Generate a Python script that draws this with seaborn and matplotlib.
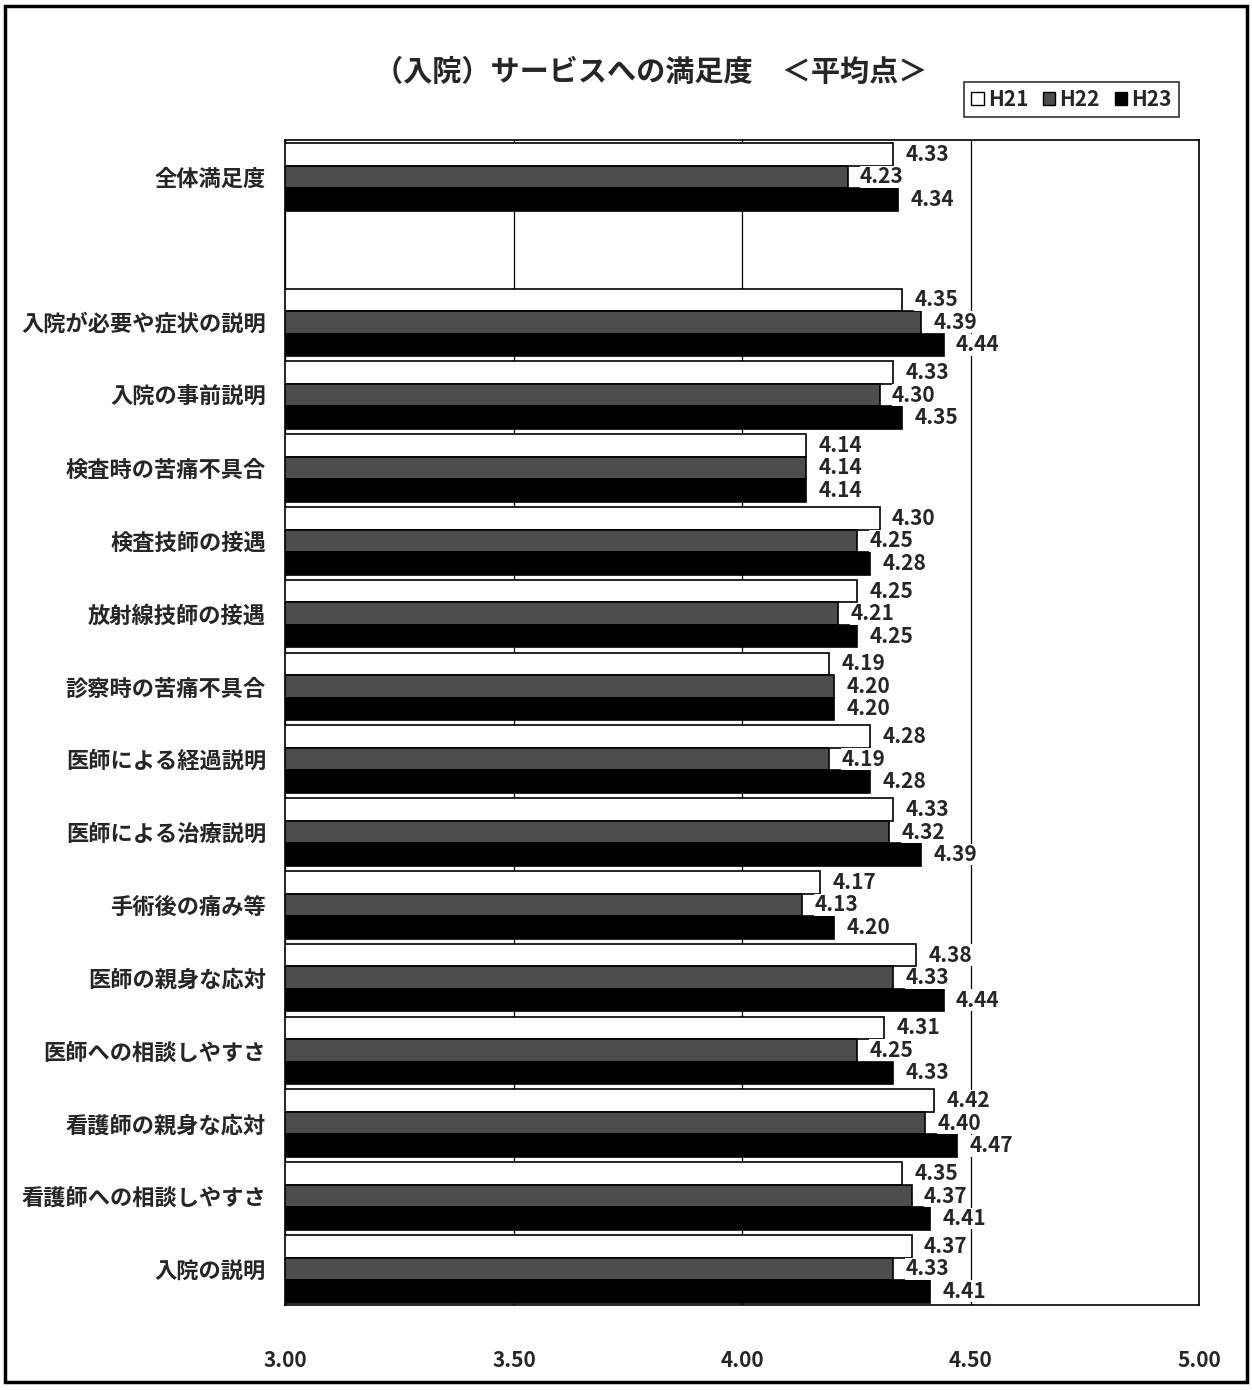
import pandas as pd
import matplotlib.pyplot as plt
import matplotlib.patches as mpatches
import seaborn as sns

CATEGORIES = ['全体満足度', ' ', '入院が必要や症状の説明', '入院の事前説明', '検査時の苦痛不具合',
              '検査技師の接遇', '放射線技師の接遇', '診察時の苦痛不具合', '医師による経過説明',
              '医師による治療説明', '手術後の痛み等', '医師の親身な応対', '医師への相談しやすさ',
              '看護師の親身な応対', '看護師への相談しやすさ', '入院の説明']
YEARS = ['H21', 'H22', 'H23']
H21 = [4.33, None, 4.35, 4.33, 4.14, 4.30, 4.25, 4.19, 4.28, 4.33, 4.17, 4.38, 4.31, 4.42, 4.35, 4.37]
H22 = [4.23, None, 4.39, 4.30, 4.14, 4.25, 4.21, 4.20, 4.19, 4.32, 4.13, 4.33, 4.25, 4.40, 4.37, 4.33]
H23 = [4.34, None, 4.44, 4.35, 4.14, 4.28, 4.25, 4.20, 4.28, 4.39, 4.20, 4.44, 4.33, 4.47, 4.41, 4.41]
X_TICKS = [3.0, 3.5, 4.0, 4.5, 5.0]


def get_figure_data():
    rows = []
    for year, vals in zip(YEARS, [H21, H22, H23]):
        for cat, v in zip(CATEGORIES, vals):
            if v is not None:
                rows.append({'項目': cat, '平均点': v, '年度': year})
    return pd.DataFrame(rows)


def draw_figure(df):
    sns.set_style('white')
    plt.rcParams['font.family'] = ['Noto Sans CJK JP', 'DejaVu Sans']
    fig = plt.figure(figsize=(12.52, 13.9), dpi=100)
    ax = fig.add_axes([0.228, 0.061, 0.730, 0.838])

    colors = ['white', '#4d4d4d', 'black']
    sns.barplot(data=df, y='項目', x='平均点', hue='年度', order=CATEGORIES, hue_order=YEARS,
                palette=colors, edgecolor='black', linewidth=1.2,
                width=0.93, orient='h', ax=ax, legend=False)

    ax.set_xlim(3.0, 5.0)
    ax.set_xticks(X_TICKS)
    ax.set_xticklabels([f'{t:.2f}' for t in X_TICKS], fontsize=15, fontweight='bold')
    ax.tick_params(axis='x', length=0, pad=32)
    ax.tick_params(axis='y', length=0, pad=14)
    ax.set_yticks(range(len(CATEGORIES)))
    ax.set_yticklabels(CATEGORIES, fontsize=16, fontweight='bold')
    ax.set_xlabel('')
    ax.set_ylabel('')
    ax.xaxis.grid(True, color='black', linewidth=0.9)
    ax.set_axisbelow(True)
    for s in ax.spines.values():
        s.set_color('black')
        s.set_linewidth(1.2)

    for cont in ax.containers:
        ax.bar_label(cont, fmt='%.2f', padding=9, fontsize=15, fontweight='bold',
                     bbox=dict(facecolor='white', edgecolor='none', pad=0.3))

    handles = [mpatches.Patch(facecolor=c, edgecolor='black', label=y)
               for c, y in zip(colors, YEARS)]
    ax.legend(handles=handles, ncol=3, loc='lower right', bbox_to_anchor=(0.989, 1.011),
              prop={'weight': 'bold', 'size': 15}, frameon=True, fancybox=False,
              edgecolor='black', handlelength=0.6, handleheight=0.6, handletextpad=0.2,
              columnspacing=0.7, borderpad=0.35)
    ax.get_legend().get_frame().set_linewidth(1.2)

    fig.text(0.52, 0.948, '（入院）サービスへの満足度　＜平均点＞', ha='center', va='center',
             fontsize=21, fontweight='bold')
    fig.patches.append(mpatches.Rectangle((0.004, 0.006), 0.992, 0.99, transform=fig.transFigure,
                                          fill=False, edgecolor='black', linewidth=2.5))
    fig.savefig('out.png', dpi=100)


def main():
    df = get_figure_data()
    draw_figure(df)


if __name__ == '__main__':
    main()
